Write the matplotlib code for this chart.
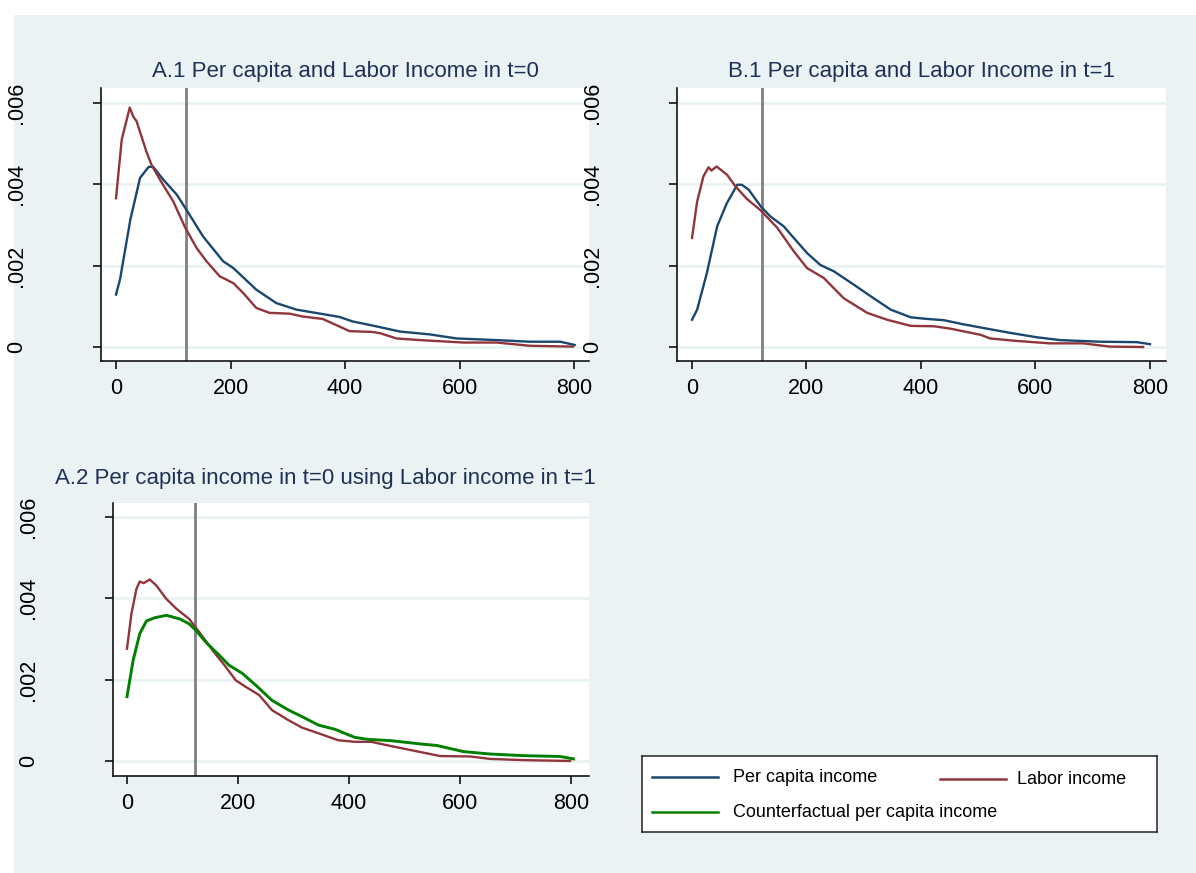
import matplotlib
matplotlib.use("Agg")
import matplotlib.pyplot as plt
from matplotlib.patches import Rectangle
from matplotlib.lines import Line2D

plt.rcParams['font.family'] = ['Liberation Sans', 'DejaVu Sans']

# ---------------- data ----------------
titles = ["A.1 Per capita and Labor Income in t=0",
          "B.1 Per capita and Labor Income in t=1",
          "A.2 Per capita income in t=0 using Labor income in t=1"]
legend_labels = ["Per capita income", "Labor income", "Counterfactual per capita income"]
xticks = [0, 200, 400, 600, 800]
yticks = [0, 0.002, 0.004, 0.006]
ytick_labels = ["0", ".002", ".004", ".006"]
cutoff = 122

a1_lab_x = [0, 10, 24, 30, 36, 53, 62, 77, 100, 121, 141, 158, 181, 205, 222, 245, 268, 303, 326, 361,
            408, 448, 461, 490, 531, 607, 665, 723, 798]
a1_lab_y = [.00366, .0051, .00589, .00567, .00555, .00481, .00448, .00411, .00358, .00293, .00243, .00211,
            .00174, .00157, .00133, .00096, .00084, .00082, .00075, .00069, .00039, .00037, .00034, .00021,
            .00017, .00011, .00011, .00003, .00001]
a1_pc_x = [0, 7, 25, 42, 57, 65, 83, 106, 121, 152, 187, 205, 245, 280, 315, 361, 390, 413, 454, 496,
           548, 595, 665, 723, 776, 801]
a1_pc_y = [.00129, .00166, .00313, .00416, .00443, .00443, .00411, .00375, .00342, .00272, .00211, .00194,
           .00141, .00108, .00092, .00081, .00074, .00063, .00051, .00038, .00031, .00021, .00017, .00013,
           .00013, .00005]

b1_lab_x = [0, 9, 20, 29, 34, 43, 61, 76, 96, 120, 149, 178, 201, 230, 265, 306, 341, 382, 423, 452,
            504, 521, 567, 625, 683, 730, 788]
b1_lab_y = [.00268, .00358, .0042, .00442, .00434, .00444, .00424, .00395, .00364, .00336, .00293, .00235,
            .00194, .0017, .0012, .00084, .00067, .00052, .00051, .00045, .0003, .00021, .00015, .00009,
            .00009, .00001, 0.0]
b1_pc_x = [0, 9, 26, 44, 61, 79, 87, 99, 120, 137, 160, 178, 201, 224, 248, 283, 312, 347, 382, 411,
           440, 470, 508, 555, 602, 643, 713, 777, 800]
b1_pc_y = [.00067, .00092, .00182, .00297, .00354, .00399, .00399, .00387, .00346, .00321, .00297, .00268,
           .00231, .00202, .00186, .00153, .00125, .00092, .00073, .00069, .00066, .00057, .00047, .00035,
           .00024, .00017, .00013, .00012, .00007]

a2_lab_x = [0, 8, 17, 23, 30, 41, 53, 71, 89, 112, 130, 154, 178, 196, 214, 238, 261, 291, 315, 351,
            380, 410, 440, 474, 510, 564, 618, 654, 714, 798]
a2_lab_y = [.00276, .00362, .00423, .00441, .00437, .00446, .00431, .00398, .00374, .00349, .00317, .00272,
            .00231, .00198, .00182, .00162, .00125, .001, .00082, .00065, .00051, .00047, .00047, .00037,
            .00027, .00012, .00011, .00005, .00002, 0.0]
a2_cf_x = [0, 11, 23, 35, 50, 71, 95, 112, 124, 142, 166, 184, 208, 232, 261, 291, 315, 345, 374, 410,
           434, 474, 534, 558, 606, 654, 714, 780, 804]
a2_cf_y = [.00158, .00247, .00313, .00344, .00352, .00358, .00349, .00337, .00321, .00292, .0026, .00235,
           .00215, .00186, .00149, .00125, .00109, .00088, .00078, .00058, .00053, .0005, .00041, .00038,
           .00023, .00017, .00013, .00011, .00005]

# ---------------- style ----------------
BG = '#eaf2f3'
NAVY = '#1a476f'
MAROON = '#90353b'
GREEN = '#008000'
VGRAY = '#808080'
TITLE_C = '#1f3057'
W, H = 1196, 873

fig = plt.figure(figsize=(W / 100, H / 100), dpi=100)
fig.patch.set_facecolor('white')
fig.patches.append(Rectangle((14 / W, 0), 1 - 14 / W, (H - 15) / H, transform=fig.transFigure,
                             facecolor=BG, edgecolor='none', zorder=-10))


def px_axes(left, top, right, bottom):
    return fig.add_axes([left / W, (H - bottom) / H, (right - left) / W, (bottom - top) / H])


def style(ax, xlim, ylim):
    ax.set_facecolor('white')
    ax.set_xlim(*xlim)
    ax.set_ylim(*ylim)
    for s in ['top', 'right']:
        ax.spines[s].set_visible(False)
    for s in ['left', 'bottom']:
        ax.spines[s].set_linewidth(1.1)
        ax.spines[s].set_color('black')
    ax.set_xticks(xticks)
    ax.set_yticks(yticks)
    ax.set_yticklabels(ytick_labels, rotation=90, va='center')
    ax.tick_params(axis='both', direction='out', length=6, width=1.1, labelsize=15.5, colors='black')
    ax.tick_params(axis='y', pad=47)
    ax.tick_params(axis='x', pad=6)
    ax.grid(axis='y', color=BG, linewidth=2.0)
    ax.set_axisbelow(True)


lw = 1.7

ax1 = px_axes(101, 88, 589, 361)
style(ax1, (-26.2, 826), (-0.000344, 0.00637))
ax1.axvline(cutoff, color=VGRAY, linewidth=2.0, zorder=1)
ax1.plot(a1_pc_x, a1_pc_y, color=NAVY, lw=lw, zorder=3)
ax1.plot(a1_lab_x, a1_lab_y, color=MAROON, lw=lw, zorder=3)

ax2 = px_axes(677, 88, 1166, 361)
style(ax2, (-26.2, 828), (-0.000344, 0.00637))
ax2.axvline(cutoff, color=VGRAY, linewidth=2.0, zorder=1)
ax2.plot(b1_pc_x, b1_pc_y, color=NAVY, lw=lw, zorder=3)
ax2.plot(b1_lab_x, b1_lab_y, color=MAROON, lw=lw, zorder=3)

ax3 = px_axes(113, 503, 589, 776)
style(ax3, (-25.2, 832), (-0.00037, 0.00634))
ax3.axvline(cutoff, color=VGRAY, linewidth=2.0, zorder=1)
ax3.plot(a2_lab_x, a2_lab_y, color=MAROON, lw=lw, zorder=3)
ax3.plot(a2_cf_x, a2_cf_y, color=GREEN, lw=2.1, zorder=3)

# titles
fig.text(345 / W, 1 - 72 / H, titles[0], ha='center', va='center', fontsize=16, color=TITLE_C)
fig.text(921 / W, 1 - 72 / H, titles[1], ha='center', va='center', fontsize=16, color=TITLE_C)
fig.text(325 / W, 1 - 478 / H, titles[2], ha='center', va='center', fontsize=16, color=TITLE_C)

# legend box
axl = px_axes(642, 756, 1157, 832)
axl.set_xlim(642, 1157)
axl.set_ylim(832, 756)
axl.set_xticks([])
axl.set_yticks([])
axl.set_facecolor('white')
for s in axl.spines.values():
    s.set_linewidth(1.1)
    s.set_color('#222222')
entries = [(652, 718, 777, 733, NAVY, legend_labels[0]),
           (940, 1006, 779, 1017, MAROON, legend_labels[1]),
           (652, 718, 812, 733, GREEN, legend_labels[2])]
for x0, x1, yy, tx, c, lab in entries:
    axl.add_line(Line2D([x0, x1], [yy, yy], color=c, lw=1.8))
    axl.text(tx, yy, lab, ha='left', va='center', fontsize=13, color='black')

fig.savefig('out.png', dpi=100)
